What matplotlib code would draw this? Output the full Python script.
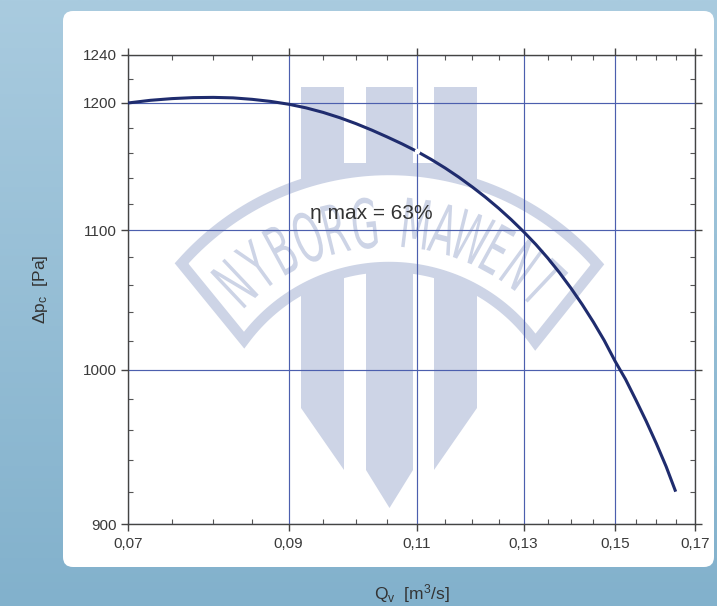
import numpy as np
import matplotlib
matplotlib.use('Agg')
import matplotlib.pyplot as plt
from matplotlib.patches import FancyBboxPatch, Polygon, PathPatch, Rectangle
from matplotlib.textpath import TextPath
from matplotlib.font_manager import FontProperties
from matplotlib.transforms import Affine2D
from matplotlib.colors import LinearSegmentedColormap
from matplotlib.ticker import FixedLocator, FuncFormatter, NullFormatter

plt.rcParams['font.family'] = ['Liberation Sans', 'DejaVu Sans']
plt.rcParams['mathtext.fontset'] = 'custom'
plt.rcParams['mathtext.rm'] = 'Liberation Sans'
plt.rcParams['mathtext.it'] = 'Liberation Sans:italic'

# fan curve: volume flow [m3/s] against pressure rise [Pa]
flow = [0.070, 0.0725, 0.075, 0.0775, 0.080, 0.0825, 0.085, 0.0875,
        0.090, 0.0925, 0.095, 0.0975, 0.100, 0.1025, 0.105, 0.1075,
        0.110, 0.1125, 0.115, 0.1175, 0.120, 0.1225, 0.125, 0.1275,
        0.130, 0.1325, 0.135, 0.1375, 0.140, 0.1425, 0.145, 0.1475,
        0.150, 0.1525, 0.155, 0.1575, 0.160, 0.1625, 0.1648]
pressure = [1200.0, 1202.2, 1203.6, 1204.4, 1204.6, 1204.2, 1203.0, 1201.3,
            1199.0, 1196.0, 1192.3, 1188.0, 1183.2, 1178.0, 1172.5, 1166.9,
            1161.0, 1154.6, 1147.8, 1140.6, 1133.0, 1125.1, 1116.8, 1108.1,
            1099.0, 1089.5, 1079.4, 1068.7, 1057.4, 1045.6, 1033.2, 1020.2,
            1006.0, 993.5, 979.5, 965.5, 951.0, 936.0, 921.0]

# best efficiency point
best_flow = 0.110
best_pressure = 1161
best_label = 'η max = 63%'
label_pos = (0.1024, 1113)

x_major = [0.07, 0.09, 0.11, 0.13, 0.15, 0.17]
x_minor = [0.075, 0.08, 0.085, 0.095, 0.10, 0.105, 0.115, 0.12, 0.125,
           0.135, 0.14, 0.145, 0.155, 0.16, 0.165]
y_major = [900, 1000, 1100, 1200, 1240]
y_minor = [920, 940, 960, 980, 1020, 1040, 1060, 1080, 1120, 1140, 1160,
           1180, 1220]

W, H = 717, 606
fig = plt.figure(figsize=(W / 100, H / 100), dpi=100)

# background layer in pixel units (y down)
bg = fig.add_axes([0, 0, 1, 1], zorder=0)
bg.set_xlim(0, W)
bg.set_ylim(H, 0)
bg.axis('off')
cmap = LinearSegmentedColormap.from_list('bgc', ['#a9cbdf', '#82b1cc'])
bg.imshow(np.linspace(0, 1, 256)[:, None], cmap=cmap, extent=(0, W, H, 0),
          aspect='auto')
bg.add_patch(FancyBboxPatch((63, 11), 651, 556,
                            boxstyle='round,pad=0,rounding_size=10',
                            fc='white', ec='none'))

# logo watermark
wm = '#cdd4e6'
bars = [
    [(301, 87), (344, 87), (344, 470), (301, 408)],
    [(366, 87), (413, 87), (413, 470), (389.5, 508), (366, 470)],
    [(434, 87), (477, 87), (477, 408), (434, 470)],
]
for b in bars:
    bg.add_patch(Polygon(b, closed=True, fc=wm, ec='none'))
bg.add_patch(Rectangle((301, 163), 176, 40, fc=wm, ec='none'))

cx, cy = 389, 447
r_out, r_in = 277, 180
a_out = np.radians(np.linspace(138.5, 41.2, 80))
a_in = np.radians(np.linspace(35.6, 143.6, 80))
band = np.vstack([
    np.column_stack([cx + r_out * np.cos(a_out), cy - r_out * np.sin(a_out)]),
    np.column_stack([cx + r_in * np.cos(a_in), cy - r_in * np.sin(a_in)]),
])
bg.add_patch(Polygon(band, closed=True, fc='white', ec=wm, lw=7.5))

fp = FontProperties(family='DejaVu Sans')


def arc_letter(ch, ang):
    tp = TextPath((0, 0), ch, size=1, prop=fp)
    ext = tp.get_extents()
    x0 = (ext.x0 + ext.x1) / 2
    t = (Affine2D().translate(-x0, -0.365).scale(36, 68)
         .rotate_deg(ang - 90).scale(1, -1)
         .translate(cx + 225 * np.cos(np.radians(ang)),
                    cy - 225 * np.sin(np.radians(ang))))
    bg.add_patch(PathPatch(t.transform_path(tp), fc=wm, ec='none'))


for i, ch in enumerate('NYBORG'):
    arc_letter(ch, 133.4 - i * 7.42)
for i, ch in enumerate('MAWENT'):
    arc_letter(ch, 83.1 - i * 7.28)

# chart
ax = fig.add_axes([128 / W, 1 - 524 / H, 567 / W, 469 / H], zorder=1)
ax.set_facecolor('none')
ax.set_xscale('log')
ax.set_yscale('log')
ax.set_xlim(0.07, 0.17)
ax.set_ylim(900, 1240)

ax.xaxis.set_major_locator(FixedLocator(x_major))
ax.xaxis.set_minor_locator(FixedLocator(x_minor))
ax.xaxis.set_major_formatter(FuncFormatter(lambda v, p: f'{v:.2f}'.replace('.', ',')))
ax.xaxis.set_minor_formatter(NullFormatter())
ax.yaxis.set_major_locator(FixedLocator(y_major))
ax.yaxis.set_minor_locator(FixedLocator(y_minor))
ax.yaxis.set_major_formatter(FuncFormatter(lambda v, p: f'{v:.0f}'))
ax.yaxis.set_minor_formatter(NullFormatter())

ax.grid(True, which='major', color='#4c5fae', lw=0.85)
ax.tick_params(which='major', direction='out', length=5, width=1,
               top=True, right=True, color='#444', labelsize=11,
               labelcolor='#3a3a3a')
ax.tick_params(axis='x', which='major', pad=4.3)
ax.tick_params(axis='y', which='major', pad=3)
ax.tick_params(which='minor', direction='in', length=3.6, width=0.8,
               top=True, right=True, color='#555')
for s in ax.spines.values():
    s.set_color('#444')
    s.set_linewidth(1)

ax.plot(flow, pressure, color='#1f2c6e', lw=2.2, zorder=3)
ax.plot([best_flow], [best_pressure], 'o', ms=3, mfc='white', mec='white',
        zorder=4)
ax.text(label_pos[0], label_pos[1], best_label, ha='center', va='center',
        fontsize=15, color='#333333', zorder=4)

ax.set_xlabel('Q$_\\mathregular{v}$  [m$^\\mathregular{3}$/s]', fontsize=12.5,
              color='#333333')
ax.xaxis.set_label_coords(0.5, -0.124)
ax.set_ylabel('Δp$_\\mathregular{c}$  [Pa]', fontsize=12.5, color='#333333')
ax.yaxis.set_label_coords(-0.137, 0.5)

fig.savefig('out.png', dpi=100)
